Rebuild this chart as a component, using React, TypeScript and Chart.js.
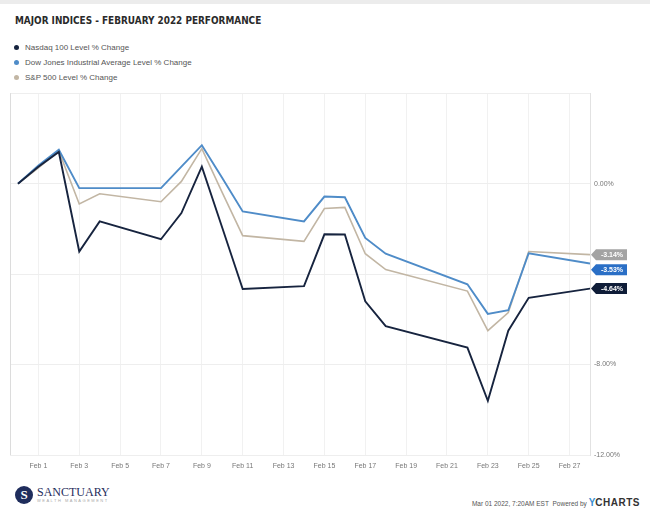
import React, { useEffect, useRef } from "react";
import { Chart, registerables } from "chart.js";

Chart.register(...registerables);

// Trading days as day offsets from Jan 31, 2022
const days = [0, 1, 2, 3, 4, 7, 8, 9, 10, 11, 14, 15, 16, 17, 18, 22, 23, 24, 25, 28];

const nasdaq = [0, 0.75, 1.4, -3.0, -1.67, -2.46, -1.3, 0.75, -1.95, -4.66, -4.53, -2.24, -2.25, -5.2, -6.3, -7.25, -9.6, -6.5, -5.05, -4.64];
const dow = [0, 0.8, 1.5, -0.2, -0.2, -0.2, 0.75, 1.7, 0.25, -1.23, -1.67, -0.57, -0.6, -2.4, -3.1, -4.45, -5.76, -5.6, -3.08, -3.53];
const sp500 = [0, 0.7, 1.45, -0.9, -0.45, -0.8, 0.1, 1.55, -0.4, -2.3, -2.55, -1.1, -1.05, -3.1, -3.8, -4.75, -6.5, -5.7, -3.0, -3.14];

const seriesNames = [
  "Nasdaq 100 Level % Change",
  "Dow Jones Industrial Average Level % Change",
  "S&P 500 Level % Change",
];
const lineColors = ["#17243f", "#4f8cc8", "#c2b6a4"];
const tagColors = ["#0f1d38", "#2a6fc6", "#a3a3a3"];

const xTickDays = [1, 3, 5, 7, 9, 11, 13, 15, 17, 19, 21, 23, 25, 27];
const xTickLabels = ["Feb 1", "Feb 3", "Feb 5", "Feb 7", "Feb 9", "Feb 11", "Feb 13", "Feb 15", "Feb 17", "Feb 19", "Feb 21", "Feb 23", "Feb 25", "Feb 27"];
const yTickValues = [4, 0, -4, -8, -12];
const yTickLabels = ["", "0.00%", "", "-8.00%", "-12.00%"];

const FONT = "'Liberation Sans', Arial, sans-serif";

const tagPlugin = {
  id: "endTags",
  afterDatasetsDraw(chart: any) {
    const ctx = chart.ctx;
    const area = chart.chartArea;
    const items: { y: number; i: number; v: number }[] = [];
    chart.data.datasets.forEach((ds: any, i: number) => {
      const meta = chart.getDatasetMeta(i);
      const pt = meta.data[meta.data.length - 1];
      items.push({ y: pt.y, i, v: ds.data[ds.data.length - 1].y });
    });
    items.sort((a, b) => a.y - b.y);
    for (let k = 1; k < items.length; k++) {
      if (items[k].y - items[k - 1].y < 15) items[k].y = items[k - 1].y + 15;
    }
    const x0 = area.right + 1;
    const h = 11;
    items.forEach((it) => {
      ctx.save();
      ctx.fillStyle = tagColors[it.i];
      ctx.beginPath();
      ctx.moveTo(x0, it.y);
      ctx.lineTo(x0 + 5, it.y - h / 2);
      ctx.lineTo(x0 + 36, it.y - h / 2);
      ctx.lineTo(x0 + 36, it.y + h / 2);
      ctx.lineTo(x0 + 5, it.y + h / 2);
      ctx.closePath();
      ctx.fill();
      ctx.fillStyle = "#ffffff";
      ctx.font = `bold 7px ${FONT}`;
      ctx.textAlign = "center";
      ctx.textBaseline = "middle";
      ctx.fillText(it.v.toFixed(2) + "%", x0 + 21, it.y + 0.5);
      ctx.restore();
    });
  },
};

const borderPlugin = {
  id: "leftBorder",
  beforeDatasetsDraw(chart: any) {
    const ctx = chart.ctx;
    const a = chart.chartArea;
    ctx.save();
    ctx.strokeStyle = "#dcdcdc";
    ctx.lineWidth = 1;
    ctx.beginPath();
    ctx.moveTo(a.left + 0.5, a.top);
    ctx.lineTo(a.left + 0.5, a.bottom);
    ctx.stroke();
    ctx.restore();
  },
};

export default function App() {
  const ref = useRef<HTMLCanvasElement>(null);

  useEffect(() => {
    if (!ref.current) return;
    const seriesData = [nasdaq, dow, sp500];
    const chart = new Chart(ref.current, {
      type: "line",
      data: {
        datasets: seriesData.map((vals, i) => ({
          label: seriesNames[i],
          data: vals.map((v, j) => ({ x: days[j], y: v })),
          borderColor: lineColors[i],
          borderWidth: i === 2 ? 1.6 : 1.9,
          pointRadius: 0,
          tension: 0,
          fill: false,
        })),
      },
      options: {
        animation: false,
        responsive: false,
        layout: { padding: { left: 10, top: 6, right: 0, bottom: 0 } },
        plugins: { legend: { display: false }, tooltip: { enabled: false } },
        scales: {
          x: {
            type: "linear",
            min: -0.39,
            max: 28,
            afterBuildTicks: (scale: any) => {
              scale.ticks = xTickDays.map((v) => ({ value: v }));
            },
            afterFit: (scale: any) => {
              scale.height = 30;
            },
            grid: { color: "#f1f1f1", drawTicks: false },
            border: { display: false },
            ticks: {
              autoSkip: false,
              maxRotation: 0,
              padding: 7,
              color: "#777",
              font: { family: FONT, size: 7 },
              callback: (v: any) => {
                const idx = xTickDays.indexOf(Number(v));
                return idx >= 0 ? xTickLabels[idx] : "";
              },
            },
          },
          y: {
            position: "right",
            min: -12,
            max: 4,
            afterBuildTicks: (scale: any) => {
              scale.ticks = yTickValues.map((v) => ({ value: v }));
            },
            afterFit: (scale: any) => {
              scale.width = 60;
            },
            grid: { color: "#eeeeee", drawTicks: false },
            border: { color: "#e2e2e2" },
            ticks: {
              padding: 4,
              color: "#777",
              font: { family: FONT, size: 7 },
              callback: (v: any) => {
                const idx = yTickValues.indexOf(Number(v));
                return idx >= 0 ? yTickLabels[idx] : "";
              },
            },
          },
        },
      },
      plugins: [tagPlugin, borderPlugin],
    } as any);
    return () => chart.destroy();
  }, []);

  return (
    <div
      style={{
        position: "absolute",
        left: 0,
        top: 0,
        width: 650,
        height: 512,
        background: "#ffffff",
        overflow: "hidden",
        fontFamily: FONT,
      }}
    >
      <div style={{ position: "absolute", left: 0, top: 0, width: 650, height: 4, background: "#ececec" }} />
      <div
        style={{
          position: "absolute",
          left: 15,
          top: 14,
          fontFamily: "'DejaVu Sans Condensed', 'DejaVu Sans', sans-serif",
          fontWeight: 700,
          fontSize: 11,
          color: "#2a2a2a",
          whiteSpace: "nowrap",
          transform: "scaleX(0.9)",
          transformOrigin: "left center",
        }}
      >
        MAJOR INDICES - FEBRUARY 2022 PERFORMANCE
      </div>
      {seriesNames.map((name, i) => (
        <div
          key={name}
          style={{
            position: "absolute",
            left: 14,
            top: 43 + i * 15,
            fontSize: 8,
            color: "#555",
            whiteSpace: "nowrap",
            display: "flex",
            alignItems: "center",
          }}
        >
          <span
            style={{
              display: "inline-block",
              width: 5,
              height: 5,
              borderRadius: 3,
              background: lineColors[i],
              marginRight: 6,
            }}
          />
          {name}
        </div>
      ))}
      <div style={{ position: "absolute", left: 0, top: 85, width: 650, height: 400 }}>
        <canvas ref={ref} width={650} height={400} />
      </div>
      <div style={{ position: "absolute", left: 15, top: 486, display: "flex", alignItems: "center" }}>
        <div
          style={{
            width: 18,
            height: 18,
            borderRadius: 9,
            background: "#1f2d5c",
            color: "#fff",
            fontFamily: "'Liberation Serif', serif",
            fontSize: 13,
            fontWeight: 700,
            display: "flex",
            alignItems: "center",
            justifyContent: "center",
          }}
        >
          S
        </div>
        <div style={{ marginLeft: 4 }}>
          <div style={{ fontFamily: "'Liberation Serif', serif", fontSize: 12, color: "#1f2d5c", lineHeight: "12px" }}>
            SANCTUARY
          </div>
          <div style={{ fontSize: 4, color: "#aaa", letterSpacing: 1.5, lineHeight: "6px" }}>WEALTH MANAGEMENT</div>
        </div>
      </div>
      <div
        style={{
          position: "absolute",
          right: 10,
          top: 497,
          display: "flex",
          alignItems: "baseline",
          whiteSpace: "nowrap",
        }}
      >
        <span style={{ fontSize: 6.5, color: "#555" }}>Mar 01 2022, 7:20AM EST&nbsp;&nbsp;Powered by&nbsp;</span>
        <span style={{ fontSize: 10, fontWeight: 700, color: "#3a8fd0" }}>Y</span>
        <span style={{ fontSize: 10, fontWeight: 700, color: "#333", letterSpacing: 0.5 }}>CHARTS</span>
      </div>
    </div>
  );
}
